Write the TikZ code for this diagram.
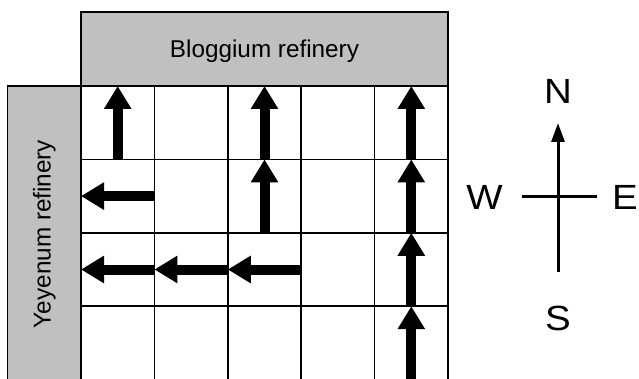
\documentclass[tikz,border=0pt]{standalone}
\usepackage{fontspec}
\setmainfont{Liberation Sans}
\usepackage{xcolor}
\usepackage{tikz}
\usetikzlibrary{arrows.meta,positioning}

\definecolor{boxgray}{RGB}{192,192,192}

\begin{document}
\begin{tikzpicture}[x=1pt, y=-1pt,
        cell/.style={draw, line width=1.5pt, minimum size=73.4pt, inner sep=0pt, outer sep=0pt},
        refinery/.style={draw, line width=1.5pt, fill=boxgray, inner sep=0pt, outer sep=0pt},
        reftext/.style={font=\fontsize{24.3}{28}\selectfont},
        flow/.style={line width=10pt, -{Triangle[width=26pt,length=23pt]}},
        dir/.style={font=\fontsize{35}{40}\selectfont, inner sep=0pt},
        axis/.style={line width=3pt}]
    \clip (0,0) rectangle (639,379);
    % grid of cells
    \foreach \r in {1,...,4}
        \foreach \c in {1,...,5}
            \node[cell] (c\r\c) at ({44.3+73.4*\c}, {49.3+73.4*\r}) {};

    \node[refinery, minimum width=367pt, minimum height=74pt, anchor=south west] (blog) at (c11.north west) {};
    \node[reftext, anchor=base] (blogtext) at ([yshift=-9pt]blog.center) {Bloggium refinery};
    \node[refinery, minimum width=73.5pt, minimum height=296pt, anchor=north east] (yey) at (c11.north west) {};
    \node[reftext, rotate=90] (yeytext) at (yey.center) {Yeyenum refinery};

    % routes
    \foreach \cl in {c11,c13,c23,c15,c25,c35,c45}
        \draw[flow] (\cl.south) -- (\cl.north);
    \foreach \cl in {c21,c31,c32,c33}
        \draw[flow] (\cl.east) -- (\cl.west);

    % compass
    \coordinate (ntip) at (558,123);
    \coordinate (stail) at (558,272);
    \coordinate (wend) at (522,197);
    \coordinate (eend) at (597,197);
    \node[dir, above=19pt of ntip] (N) {\scalebox{1.1}[1]{N}};
    \node[dir, below=34pt of stail] (S) {\scalebox{1.1}[1]{S}};
    \node[dir, left=19pt of wend] (W) {\scalebox{1.1}[1]{W}};
    \node[dir, right=15pt of eend] (E) {\scalebox{1.1}[1]{E}};
    \draw[axis, -{Triangle[width=13pt,length=19pt]}] (stail) -- (ntip);
    \draw[axis] (wend) -- (eend);
\end{tikzpicture}
\end{document}
